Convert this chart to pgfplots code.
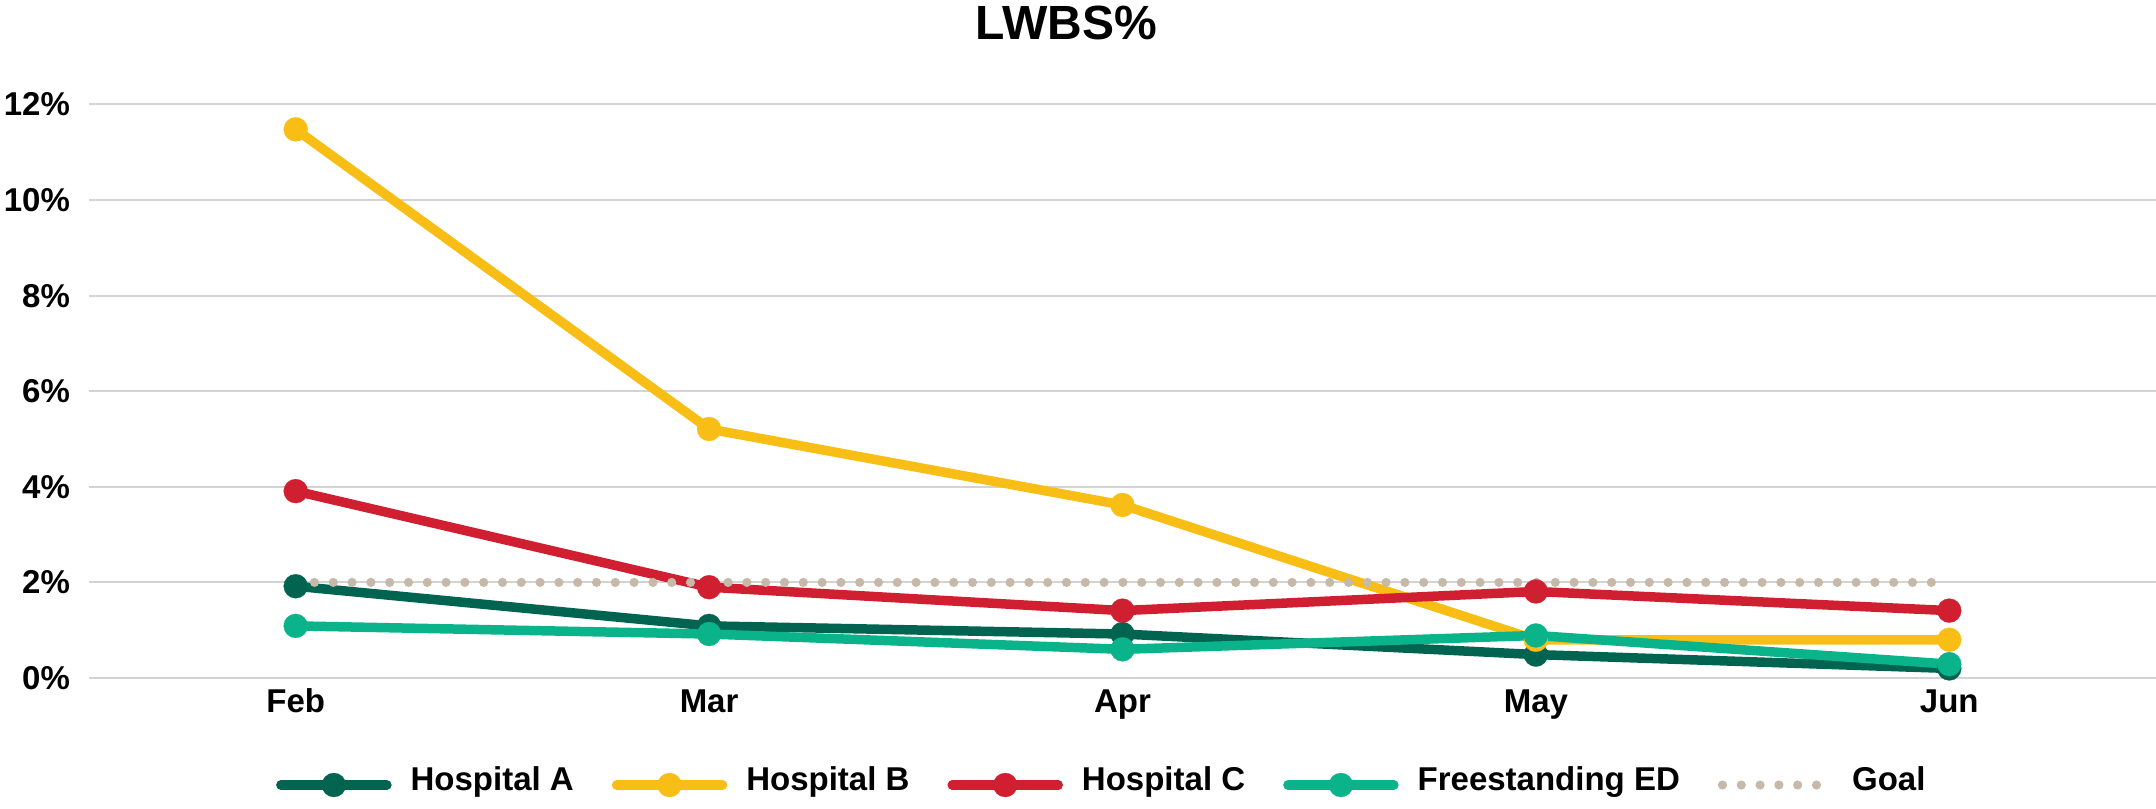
\documentclass[border=0pt]{standalone}
\usepackage{fontspec}
\setmainfont{Liberation Sans}
\usepackage{pgfplots}
\pgfplotsset{compat=1.18}
\definecolor{hA}{HTML}{006450}
\definecolor{hB}{HTML}{F8BE16}
\definecolor{hC}{HTML}{D01F30}
\definecolor{hED}{HTML}{0BB38A}
\definecolor{goalc}{HTML}{C6B9A9}
\definecolor{gridc}{HTML}{D3D3D3}
\begin{document}
\begin{tikzpicture}
\useasboundingbox (-44.5pt,-65pt) rectangle (1033.5pt,339pt);
\begin{axis}[
  at={(0pt,0pt)}, anchor=south west,
  scale only axis, width=1033.5pt, height=286.75pt,
  xmin=-0.5, xmax=4.5, ymin=0, ymax=12,
  axis line style={draw=none},
  major tick length=0pt,
  xtick={0,1,2,3,4}, xticklabels={Feb,Mar,Apr,May,Jun},
  ytick={0,2,4,6,8,10,12}, yticklabels={0\%,2\%,4\%,6\%,8\%,10\%,12\%},
  ymajorgrids, grid style={gridc, line width=1pt},
  tick label style={font=\fontsize{16.5}{19}\selectfont\bfseries},
  xticklabel style={text height=0.72em, text depth=0.2em, yshift=-6.5pt},
  yticklabel style={xshift=-6pt},
  clip=false,
  legend columns=5,
  legend style={at={(0.4895,-0.1866)}, anchor=center, draw=none, fill=none,
    font=\fontsize{16.5}{19}\selectfont\bfseries,
    nodes={inner sep=0pt, text height=0.72em, text depth=0.2em},
    /tikz/every odd column/.append style={column sep=9.5pt},
    /tikz/every even column/.append style={column sep=19pt}},
  legend image code/.code={\draw[#1, mark repeat=2, mark phase=2] plot coordinates {(0pt,0pt) (26.5pt,0pt) (53pt,0pt)};},
  every axis plot/.append style={line width=4.75pt, line cap=round, line join=round},
]
\addplot[hA, mark=*, mark size=6pt, mark options={line width=0.1pt}] coordinates {(0,1.92) (1,1.09) (2,0.92) (3,0.49) (4,0.20)};
\addlegendentry{Hospital A}
\addplot[hB, mark=*, mark size=6pt, mark options={line width=0.1pt}] coordinates {(0,11.48) (1,5.21) (2,3.62) (3,0.80) (4,0.80)};
\addlegendentry{Hospital B}
\addplot[hC, mark=*, mark size=6pt, mark options={line width=0.1pt}] coordinates {(0,3.91) (1,1.90) (2,1.41) (3,1.81) (4,1.41)};
\addlegendentry{Hospital C}
\addplot[hED, mark=*, mark size=6pt, mark options={line width=0.1pt}] coordinates {(0,1.09) (1,0.92) (2,0.60) (3,0.89) (4,0.29)};
\addlegendentry{Freestanding ED}
\addplot[goalc, line width=4.6pt, dash pattern=on 0pt off 9.4pt, no marks] coordinates {(0,2) (1,2) (2,2) (3,2) (4,2)};
\addlegendentry{Goal}
\end{axis}
\node[font=\fontsize{24}{27}\selectfont\bfseries, anchor=center, inner sep=0pt] at (488.5pt,327.75pt) {LWBS\%};
\end{tikzpicture}
\end{document}
